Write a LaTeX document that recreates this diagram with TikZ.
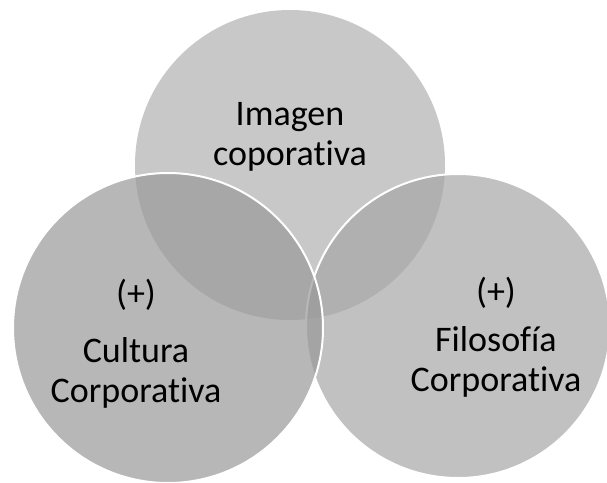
\documentclass[tikz,border=0pt]{standalone}
\usepackage{fontspec}
\setmainfont{Carlito}[Ligatures={NoCommon}]
\definecolor{topfill}{RGB}{200,200,200}
\definecolor{leftfill}{RGB}{153,153,153}
\definecolor{rightfill}{RGB}{166,166,166}
\begin{document}
\begin{tikzpicture}[x=1pt,y=-1pt,
  vennbase/.style={circle,inner sep=0pt,minimum size=310pt},
  topcirc/.style={vennbase,fill=topfill},
  sidecirc/.style={vennbase,draw=white,line width=2pt,fill opacity=0.7},
  lbl/.style={font=\fontsize{36}{40}\selectfont,align=center,anchor=base,inner sep=0pt,text=black}]
\useasboundingbox (0,0) rectangle (607,482);
\begin{scope}
\clip (0,0) rectangle (607,482);
\node[topcirc] (ctop) at (290,165) {};
\node[sidecirc,fill=rightfill,minimum size=304pt] (cright) at (458,326) {};
\node[sidecirc,fill=leftfill] (cleft) at (168,328) {};
\end{scope}
\node[lbl] (ttop) at (290,165) {Imagen\\coporativa};
\node[lbl] (tleft) at (136,402) {(+)\\[17pt]Cultura\\Corporativa};
\node[lbl] (tright) at (496,391) {(+)\\[8pt]Filosofía\\Corporativa};
\end{tikzpicture}
\end{document}
